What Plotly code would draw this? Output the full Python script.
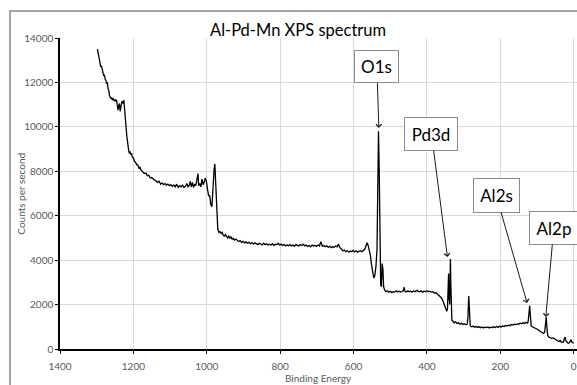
import plotly.graph_objects as go

# ---- data ----
binding_energy = [
    1298, 1295, 1293, 1291, 1289, 1287, 1285, 1283, 1281, 1279, 1277, 1275, 1273, 1271, 1269, 1267,
    1265, 1263, 1261, 1259, 1257, 1255, 1252, 1250, 1248, 1246, 1244, 1242, 1240, 1238, 1236, 1234,
    1232, 1230, 1228, 1226, 1224, 1222, 1220, 1218, 1216, 1213, 1211, 1209, 1207, 1205, 1203, 1200,
    1197, 1194, 1191, 1188, 1185, 1182, 1179, 1176, 1173, 1170, 1166, 1162, 1158, 1154, 1150, 1146,
    1142, 1138, 1134, 1130, 1126, 1122, 1118, 1114, 1110, 1106, 1102, 1098, 1094, 1090, 1086, 1082,
    1078, 1074, 1070, 1066, 1062, 1058, 1054, 1051, 1048, 1045, 1042, 1039, 1036, 1033, 1030, 1027,
    1024, 1022, 1019, 1016, 1013, 1010, 1007, 1004, 1001, 998, 995, 992, 989, 986, 983, 980,
    978, 976, 974, 972, 970, 967, 964, 961, 958, 955, 952, 949, 946, 943, 940, 937,
    934, 931, 928, 925, 921, 917, 913, 909, 905, 901, 897, 893, 889, 885, 881, 877,
    873, 869, 865, 861, 857, 853, 849, 845, 841, 837, 833, 829, 825, 821, 817, 813,
    809, 805, 801, 797, 793, 789, 785, 781, 777, 773, 769, 765, 761, 757, 753, 749,
    745, 741, 737, 733, 729, 725, 721, 717, 713, 709, 705, 701, 697, 693, 689, 685,
    681, 677, 673, 669, 665, 661, 657, 653, 649, 645, 641, 637, 633, 629, 625, 621,
    617, 613, 609, 605, 601, 597, 593, 589, 585, 581, 577, 573, 569, 566, 563, 560,
    557, 554, 551, 548, 545, 542, 539, 536, 534, 532, 530, 528, 526, 524, 522, 520,
    518, 515, 512, 508, 504, 500, 496, 492, 488, 484, 480, 476, 472, 468, 464, 462,
    460, 456, 452, 448, 444, 440, 436, 432, 428, 424, 420, 416, 412, 408, 404, 400,
    396, 392, 388, 384, 380, 376, 372, 368, 364, 360, 356, 352, 349, 346, 344, 342,
    341, 340, 339, 338, 337, 336, 335, 334, 332, 329, 326, 322, 318, 314, 310, 306,
    302, 298, 294, 290, 288, 286, 284, 282, 278, 274, 270, 266, 262, 258, 254, 250,
    246, 242, 238, 234, 230, 226, 222, 218, 214, 210, 206, 202, 198, 194, 190, 186,
    182, 178, 174, 170, 166, 162, 158, 154, 150, 146, 142, 138, 134, 130, 126, 124,
    122, 120, 118, 116, 113, 110, 106, 102, 98, 94, 90, 86, 82, 79, 77, 75,
    73, 71, 68, 64, 60, 56, 52, 48, 44, 40, 37, 35, 31, 28, 25, 23,
    21, 18, 15, 12, 9, 7, 5, 2, 0,
]
counts_per_second = [
    13500, 13200, 12950, 12850, 12700, 12750, 12500, 12450, 12300, 12350, 12150, 12100, 11950, 12000, 11700, 11650,
    11400, 11350, 11280, 11300, 11200, 11260, 11180, 11230, 11150, 11220, 11000, 10750, 10950, 11050, 10700, 11000,
    11100, 11150, 11050, 11200, 10900, 10500, 10000, 9600, 9200, 8950, 8800, 8900, 8750, 8820, 8650, 8600,
    8450, 8400, 8300, 8280, 8150, 8180, 8050, 8000, 7980, 7900, 7920, 7800, 7820, 7700, 7720, 7640,
    7600, 7560, 7500, 7550, 7420, 7480, 7400, 7450, 7380, 7420, 7350, 7400, 7320, 7380, 7300, 7420,
    7280, 7350, 7300, 7380, 7270, 7330, 7450, 7300, 7350, 7550, 7300, 7500, 7280, 7420, 7350, 7600,
    7900, 7350, 7450, 7300, 7650, 7400, 7500, 7700, 7550, 7200, 6900, 6900, 6500, 6400, 7400, 8100,
    8330, 7600, 6600, 5900, 5400, 5250, 5280, 5200, 5250, 5120, 5080, 5150, 5040, 5000, 5080, 4990,
    5050, 4950, 4980, 4900, 4950, 4870, 4840, 4880, 4800, 4850, 4780, 4820, 4760, 4800, 4740, 4790,
    4720, 4780, 4740, 4700, 4760, 4720, 4690, 4760, 4700, 4740, 4680, 4720, 4680, 4740, 4660, 4720,
    4700, 4760, 4680, 4720, 4660, 4700, 4640, 4680, 4650, 4700, 4640, 4680, 4620, 4700, 4660, 4640,
    4700, 4660, 4720, 4640, 4680, 4620, 4660, 4600, 4680, 4640, 4660, 4620, 4680, 4640, 4830, 4620,
    4660, 4600, 4640, 4580, 4620, 4560, 4600, 4580, 4640, 4600, 4720, 4560, 4500, 4420, 4450, 4380,
    4420, 4360, 4410, 4380, 4440, 4370, 4420, 4360, 4400, 4420, 4380, 4460, 4500, 4650, 4780, 4650,
    4450, 4200, 3800, 3400, 3200, 3300, 3700, 4500, 7500, 9800, 8000, 4000, 2900, 2800, 3850, 3600,
    2800, 2650, 2580, 2620, 2560, 2600, 2540, 2580, 2560, 2620, 2570, 2600, 2560, 2590, 2640, 2790,
    2600, 2570, 2620, 2580, 2600, 2560, 2620, 2580, 2640, 2600, 2580, 2620, 2560, 2600, 2580, 2620,
    2580, 2600, 2560, 2580, 2520, 2540, 2480, 2440, 2400, 2300, 2150, 2000, 1850, 1700, 1800, 3000,
    3400, 2200, 2500, 2000, 3200, 4050, 3000, 1500, 1300, 1250, 1180, 1220, 1150, 1180, 1120, 1160,
    1100, 1140, 1090, 1120, 1500, 2390, 1500, 1050, 1000, 1030, 980, 1010, 970, 1000, 960, 990,
    950, 980, 960, 990, 950, 980, 960, 1000, 970, 1010, 980, 1020, 990, 1040, 1010, 1060,
    1030, 1070, 1050, 1100, 1080, 1120, 1100, 1130, 1110, 1160, 1140, 1180, 1150, 1200, 1170, 1250,
    1600, 1950, 1500, 1050, 1000, 980, 960, 920, 880, 820, 780, 720, 700, 760, 1200, 1440,
    1000, 620, 540, 520, 480, 500, 450, 400, 360, 340, 380, 330, 300, 320, 480, 540,
    360, 280, 260, 280, 380, 420, 300, 250, 260,
]

x_tick_values = [1400, 1200, 1000, 800, 600, 400, 200, 0]
y_tick_values = [0, 2000, 4000, 6000, 8000, 10000, 12000, 14000]

peak_labels = ["O1s", "Pd3d", "Al2s", "Al2p"]
peak_energy = [531, 344, 127, 76]
peak_counts = [9950, 4140, 2070, 1440]

title_text = "Al-Pd-Mn XPS spectrum"
x_title = "Binding Energy"
y_title = "Counts per second"

FONT = "Lato"
TICK_COLOR = "#595959"

fig = go.Figure()
fig.add_trace(go.Scatter(
    x=binding_energy, y=counts_per_second, mode="lines",
    line=dict(color="#000000", width=1.3), showlegend=False, hoverinfo="skip",
))

# label boxes: (ax, ay offsets in px, box width, box height)
box_geom = [(-2, -61, 31, 19), (-16, -123, 40, 20), (-31, -108, 33, 21), (8, -89, 36, 20)]
for lab, ex, cy, (ax, ay, w, h) in zip(peak_labels, peak_energy, peak_counts, box_geom):
    fig.add_annotation(
        x=ex, y=cy, xref="x", yref="y", text=lab, showarrow=True,
        ax=ax, ay=ay, arrowhead=4, arrowsize=1.1, arrowwidth=1, arrowcolor="#1a1a1a",
        font=dict(family=FONT, size=17, color="#000000"),
        bgcolor="#ffffff", bordercolor="#8c8c8c", borderwidth=1, borderpad=6,
        width=w, height=h, align="center", valign="middle",
    )

# chart title
fig.add_annotation(
    x=0.46, y=1.025, xref="paper", yref="paper", text=title_text, showarrow=False,
    xanchor="center", yanchor="middle", font=dict(family=FONT, size=16.5, color="#000000"),
)
# axis titles
fig.add_annotation(
    x=0.5, y=-0.092, xref="paper", yref="paper", text=x_title, showarrow=False,
    xanchor="center", yanchor="middle", font=dict(family=FONT, size=10, color=TICK_COLOR),
)
fig.add_annotation(
    x=-0.077, y=0.5, xref="paper", yref="paper", text=y_title, showarrow=False, textangle=-90,
    xanchor="center", yanchor="middle", font=dict(family=FONT, size=10, color=TICK_COLOR),
)

# outer chart-area border
fig.add_shape(type="rect", xref="paper", yref="paper", x0=-0.0967, x1=1.2, y0=-0.3, y1=1.0868,
              line=dict(color="#878787", width=1.5), fillcolor="rgba(0,0,0,0)", layer="above")

fig.update_layout(
    width=577, height=385,
    margin=dict(l=60, r=0, t=38, b=36),
    paper_bgcolor="#ffffff", plot_bgcolor="#ffffff",
    font=dict(family=FONT, color=TICK_COLOR),
)
fig.update_xaxes(
    range=[1400, -9], tickvals=x_tick_values, ticktext=[str(v) for v in x_tick_values],
    showgrid=True, gridcolor="#d9d9d9", gridwidth=1,
    showline=True, linecolor="#000000", linewidth=1.5,
    ticks="outside", ticklen=3, tickcolor="#000000",
    ticklabelstandoff=4, ticklabeloverflow="allow", automargin=False,
    tickfont=dict(family=FONT, size=10, color=TICK_COLOR),
    zeroline=False,
)
fig.update_yaxes(
    range=[0, 14000], tickvals=y_tick_values, ticktext=[str(v) for v in y_tick_values],
    showgrid=True, gridcolor="#d9d9d9", gridwidth=1,
    showline=True, linecolor="#000000", linewidth=1.5,
    ticks="outside", ticklen=3, tickcolor="#000000", automargin=False,
    tickfont=dict(family=FONT, size=10, color=TICK_COLOR),
    zeroline=False,
)

fig.write_html("out.html")
